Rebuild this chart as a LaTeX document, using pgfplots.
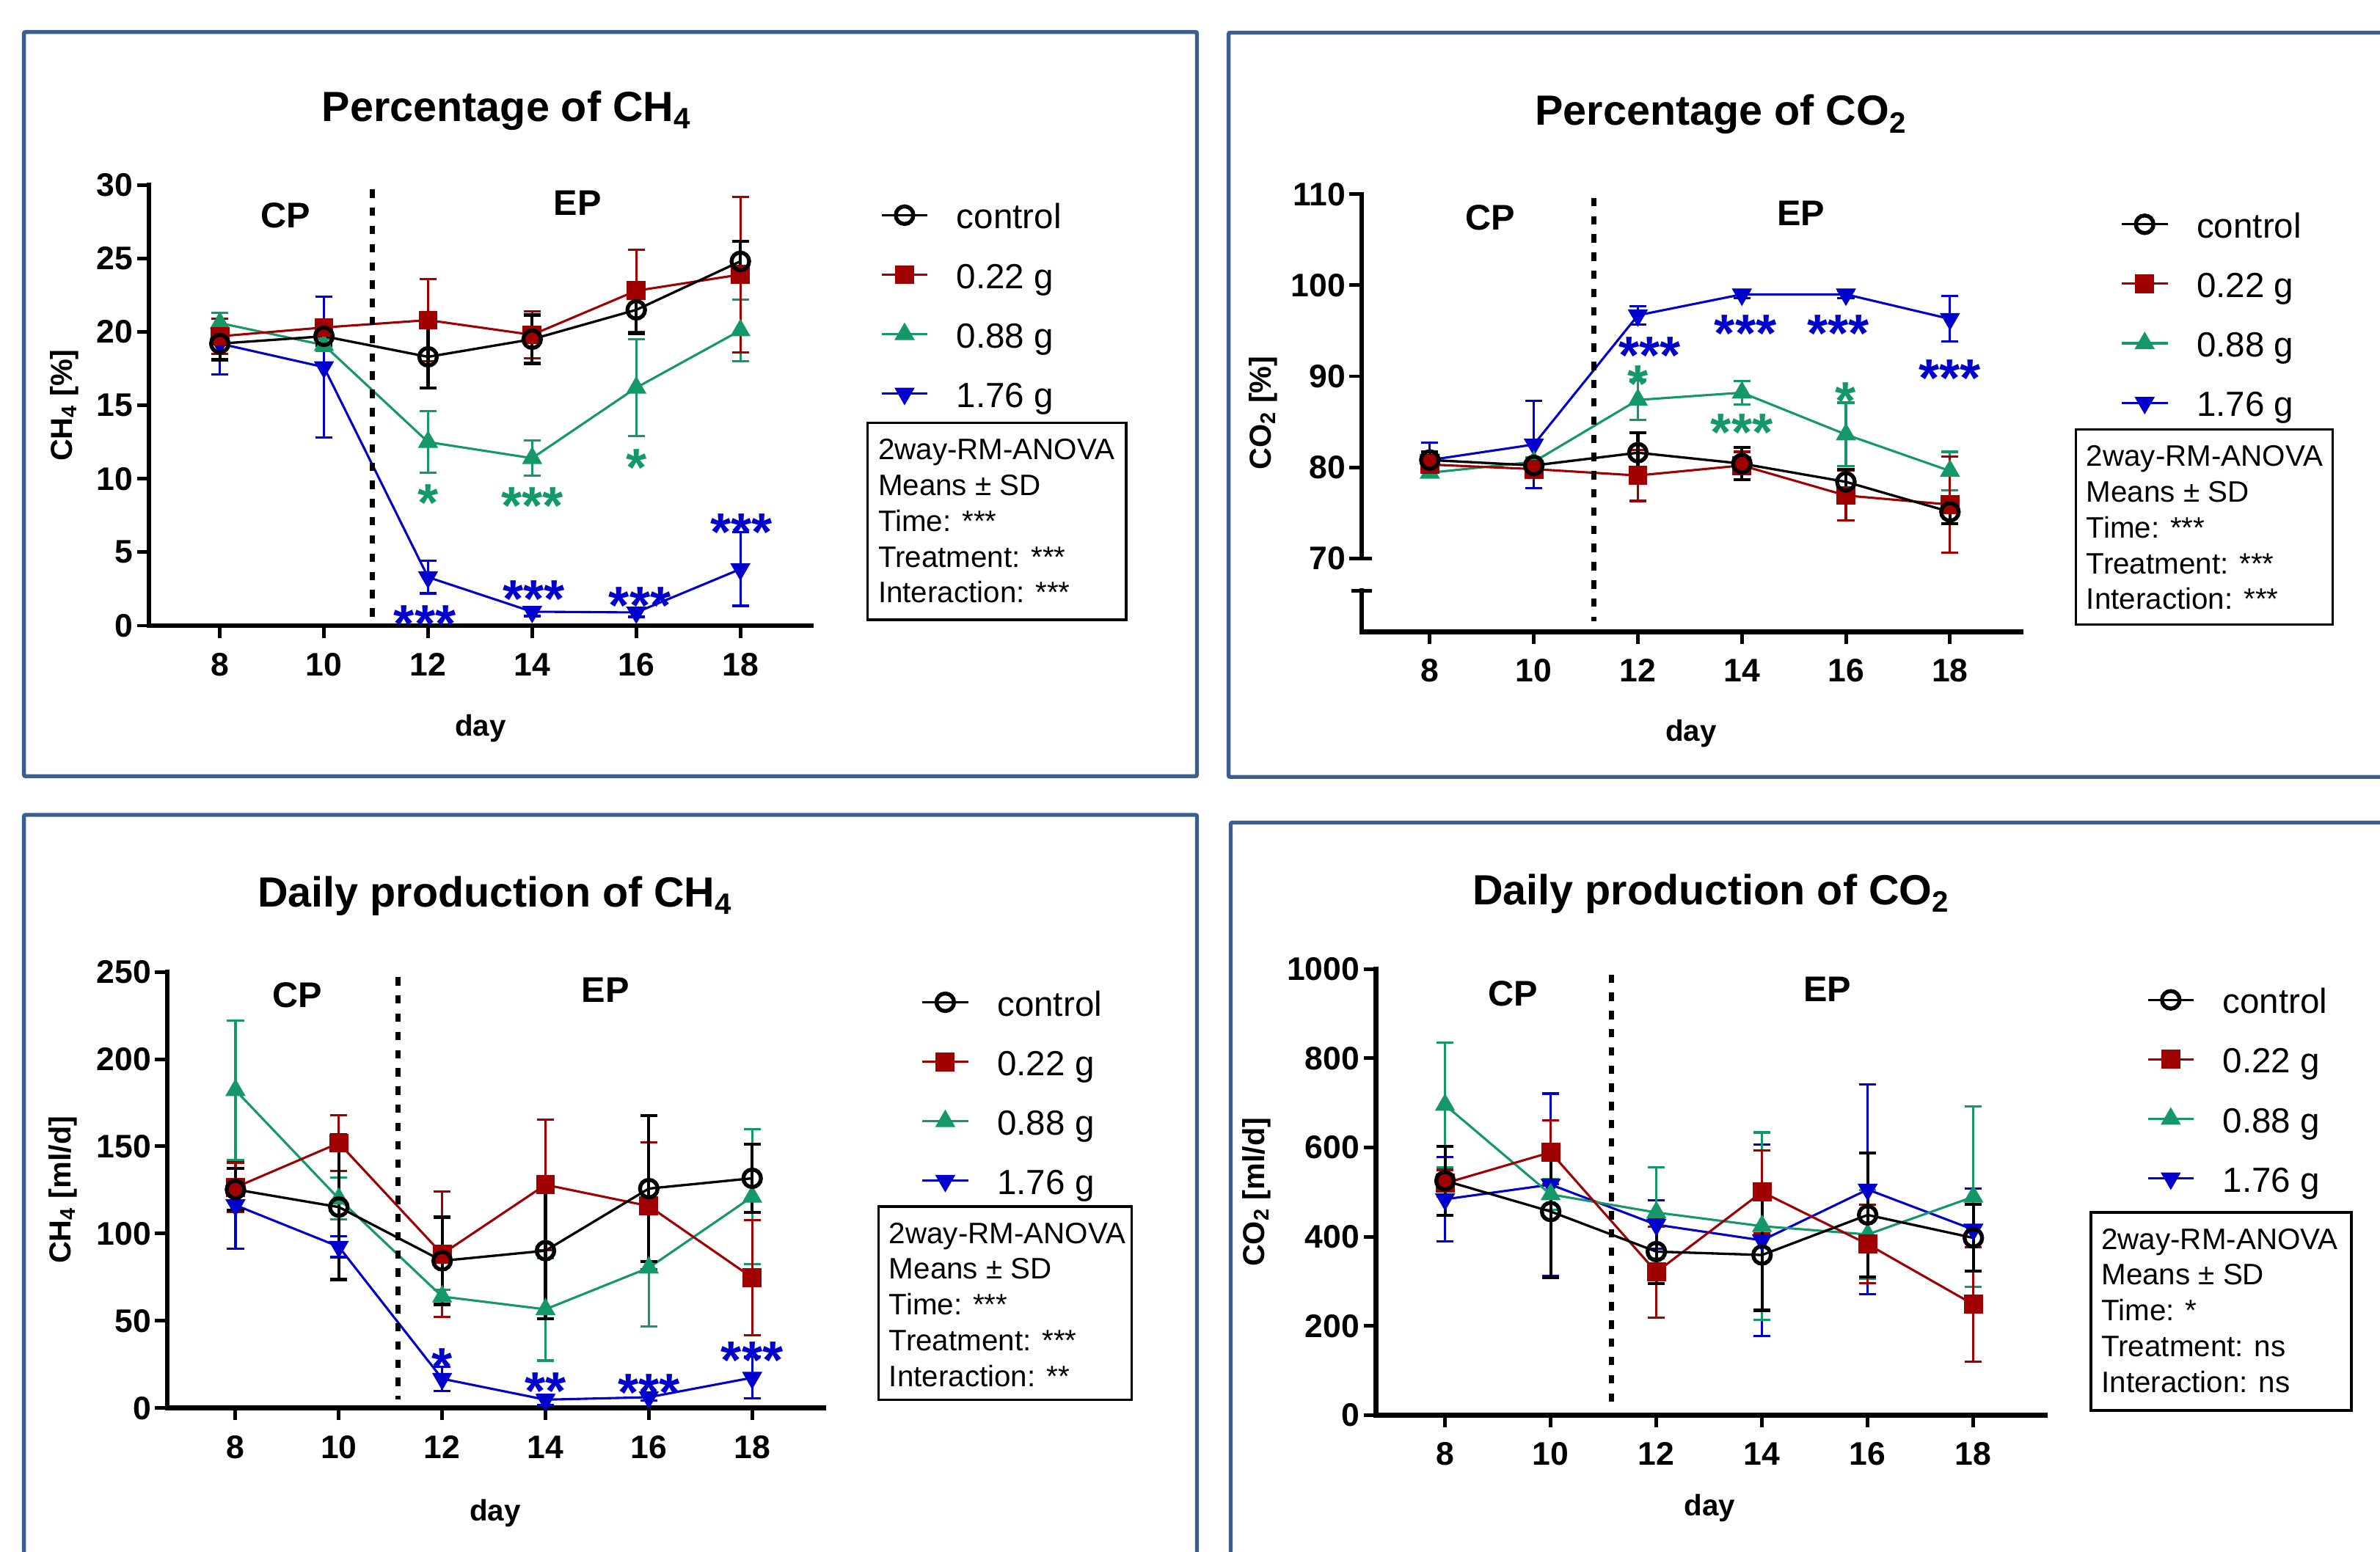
\documentclass[border=0pt]{standalone}
\usepackage{fontspec}
\setmainfont{Liberation Sans}
\usepackage{pgfplots}
\pgfplotsset{compat=1.18}
\usepackage{pgfplotstable}

\definecolor{cred}{RGB}{160,0,0}
\definecolor{cgreen}{RGB}{20,152,104}
\definecolor{cblue}{RGB}{0,0,204}
\definecolor{cborder}{RGB}{58,95,142}

\newcommand{\fsz}[1]{\fontsize{#1pt}{#1pt}\selectfont}
\newcommand{\st}[1]{\raisebox{-0.43em}[0.3em][0pt]{#1}}

% x  control  sd  0.22g  sd  0.88g  sd  1.76g  sd
\pgfplotstableread{
x  c     ce    r     re   g     ge   b     be
8  19.2  1.1   19.7  1.2  20.6  0.7  19.2  2.1
10 19.7  0.6   20.3  0.4  19.1  0.4  17.6  4.8
12 18.3  2.1   20.8  2.8  12.5  2.1  3.3   1.1
14 19.5  1.65  19.8  1.6  11.4  1.2  0.95  0.3
16 21.5  1.6   22.8  2.8  16.2  3.3  0.9   0.3
18 24.8  1.35  23.9  5.3  20.1  2.1  3.85  2.5
}\tTL

\pgfplotstableread{
x  c     ce    r     re    g     ge   b     be
8  80.8  0.9   80.3  0.7   79.4  0.5  80.8  1.9
10 80.2  0.5   79.8  0.5   80.6  0.5  82.5  4.8
12 81.6  2.2   79.1  2.8   87.4  2.2  96.7  1.0
14 80.4  1.75  80.2  1.5   88.2  1.3  99.0  0.4
16 78.4  1.4   76.9  2.75  83.6  3.5  99.0  0.4
18 75.1  1.3   75.9  5.25  79.6  2.1  96.3  2.5
}\tTR

\pgfplotstableread{
x  c      ce    r      re    g      ge    b     be
8  125.3  12    126.5  14    182.2  40    116.3 25
10 115.2  41.5  151.9  16    120.0  12    92.5  6
12 84.4   25    88.3   36    63.9   4     16.8  7
14 90.2   39    128.0  37.4  56.6   29.4  4.8   3
16 125.8  42    115.8  36.4  80.4   33.6  6.2   2
18 131.7  19.5  74.8   33    121.1  38.7  17.4  12
}\tBL

\pgfplotstableread{
x  c      ce    r      re    g      ge    b      be
8  525.7  77    520.0  30    695.5  139   484.1  94
10 456.7  148   589.3  72    495.0  35    517.0  204
12 366.9  71    321.0  102   454.5  102   427.2  54
14 359.3  124   500.5  93    423.9  210   392.1  215
16 449.0  139   383.4  88    405.3  99    506.0  235
18 397.6  75    248.6  128   489.6  202   416.2  92
}\tBR

\pgfplotsset{
  panel/.style={
    scale only axis, clip=false, anchor=south west,
    axis x line*=bottom, axis y line*=left,
    axis line style={-, line width=3.2pt, line cap=rect},
    tick style={line width=2.4pt, black},
    major tick length=8pt, tick align=outside,
    xtick={8,10,12,14,16,18},
    minor tick num=0,
    ticklabel style={font=\fsz{21.5}\bfseries},
    /pgf/number format/assume math mode=true,
    /pgf/number format/1000 sep={},
    xticklabel style={anchor=base, yshift=-25pt},
    yticklabel style={anchor=east, inner sep=0pt, xshift=-2.5pt},
    reverse legend, legend cell align=left,
    legend style={draw=none, fill=none, inner sep=0pt, outer sep=0pt,
      anchor=north west, font=\fsz{23}, row sep=13.2pt, column sep=18.3pt,
      nodes={inner sep=0pt, text height=22pt, text depth=4pt}},
    legend image code/.code={\draw[mark repeat=2,mark phase=2,##1] plot coordinates {(0pt,0pt) (15.15pt,0pt) (30.3pt,0pt)};},
  },
  sctrl/.style={black, line width=1.6pt, mark=o, mark size=5.8pt,
    mark options={line width=2.6pt, solid},
    error bars/y dir=both, error bars/y explicit,
    error bars/error bar style={line width=2pt, black, solid},
    error bars/error mark options={line width=2pt, mark size=5.6pt, black, rotate=90}},
  sred/.style={cred, line width=1.5pt, mark=square*, mark size=6pt,
    mark options={line width=0.5pt, fill=cred, solid},
    error bars/y dir=both, error bars/y explicit,
    error bars/error bar style={line width=1.5pt, cred, solid},
    error bars/error mark options={line width=1.5pt, mark size=5.6pt, cred, rotate=90}},
  sgreen/.style={cgreen, line width=1.5pt, mark=triangle*, mark size=7.2pt,
    mark options={line width=0.5pt, fill=cgreen, solid},
    error bars/y dir=both, error bars/y explicit,
    error bars/error bar style={line width=1.5pt, cgreen, solid},
    error bars/error mark options={line width=1.5pt, mark size=5.6pt, cgreen, rotate=90}},
  sblue/.style={cblue, line width=1.5pt, mark=triangle*, mark size=7.2pt,
    mark options={line width=0.5pt, fill=cblue, solid, rotate=180},
    error bars/y dir=both, error bars/y explicit,
    error bars/error bar style={line width=1.5pt, cblue, solid},
    error bars/error mark options={line width=1.5pt, mark size=5.6pt, cblue, rotate=90}},
}

\tikzset{
  stars/.style={font=\fsz{35}\bfseries, anchor=center, inner sep=0pt},
  dashl/.style={line width=3.2pt, dash pattern=on 5.5pt off 6.5pt, black},
}

\newcommand{\statbox}[7]{%
  \draw[line width=1.6pt] (#1pt,-#2pt) rectangle (#3pt,-#4pt);
  \begin{scope}[shift={(#1pt,-#2pt)}]
    \node[anchor=base west, inner sep=0pt, font=\fsz{19.5}] at (6.7pt,-24.2pt) {2way-RM-ANOVA};
    \node[anchor=base west, inner sep=0pt, font=\fsz{19.5}] at (6.7pt,-47.8pt) {Means ± SD};
    \node[anchor=base west, inner sep=0pt, font=\fsz{19.5}] at (6.7pt,-71.4pt) {Time: #5};
    \node[anchor=base west, inner sep=0pt, font=\fsz{19.5}] at (6.7pt,-95.0pt) {Treatment: #6};
    \node[anchor=base west, inner sep=0pt, font=\fsz{19.5}] at (6.7pt,-118.6pt) {Interaction: #7};
  \end{scope}
}

\begin{document}
\begin{tikzpicture}
\useasboundingbox (0pt,0pt) rectangle (1568pt,-1022.3pt);
\fill[white] (0pt,0pt) rectangle (1568pt,-1022.3pt);

% panel frames
\draw[cborder, line width=2.6pt, rounded corners=1pt] (15.8pt,-21.1pt) rectangle (788.6pt,-511.5pt);
\draw[cborder, line width=2.6pt, rounded corners=1pt] (809.4pt,-21.5pt) rectangle (1590pt,-512pt);
\draw[cborder, line width=2.6pt, rounded corners=1pt] (15.8pt,-537pt) rectangle (788.6pt,-1040pt);
\draw[cborder, line width=2.6pt, rounded corners=1pt] (810.8pt,-542.1pt) rectangle (1590pt,-1040pt);

% ---------------- Top left: Percentage of CH4
\begin{axis}[panel, at={(98.2pt,-412.3pt)}, width=436.2pt, height=290.4pt,
  xmin=6.64, xmax=19.36, ymin=0, ymax=30, ytick={0,5,...,30},
  legend style={at={(axis description cs:1.10454,0.97624)}}]
\addplot[sblue] table[x=x,y=b,y error=be]{\tTL}; \addlegendentry{1.76 g}
\addplot[sgreen] table[x=x,y=g,y error=ge]{\tTL}; \addlegendentry{0.88 g}
\addplot[sred] table[x=x,y=r,y error=re]{\tTL}; \addlegendentry{0.22 g}
\addplot[sctrl] table[x=x,y=c,y error=ce]{\tTL}; \addlegendentry{control}
\draw[dashl] (axis cs:10.93,29.7) -- (axis cs:10.93,0);
\node[stars, text=cgreen] at (axis cs:12,9.2) {\st{*}};
\node[stars, text=cgreen] at (axis cs:14,9.0) {\st{***}};
\node[stars, text=cgreen] at (axis cs:16,11.6) {\st{*}};
\node[stars, text=cblue] at (axis cs:11.94,0.95) {\st{***}};
\node[stars, text=cblue] at (axis cs:14.03,2.66) {\st{***}};
\node[stars, text=cblue] at (axis cs:16.07,2.2) {\st{***}};
\node[stars, text=cblue] at (axis cs:18.02,7.2) {\st{***}};
\end{axis}

% ---------------- Top right: Percentage of CO2
\begin{axis}[panel, at={(897.1pt,-416.5pt)}, width=434.5pt, height=288.5pt,
  xmin=6.69, xmax=19.37, ymin=61.9, ymax=110, ytick={70,80,...,110},
  y axis line style={draw=none},
  legend style={at={(axis description cs:1.15051,0.97643)}}]
\addplot[sblue] table[x=x,y=b,y error=be]{\tTR}; \addlegendentry{1.76 g}
\addplot[sgreen] table[x=x,y=g,y error=ge]{\tTR}; \addlegendentry{0.88 g}
\addplot[sred] table[x=x,y=r,y error=re]{\tTR}; \addlegendentry{0.22 g}
\addplot[sctrl] table[x=x,y=c,y error=ce]{\tTR}; \addlegendentry{control}
\draw[line width=3.2pt, line cap=rect] (axis cs:6.69,110) -- (axis cs:6.69,70);
\draw[line width=3.2pt, line cap=rect] (axis cs:6.69,66.43) -- (axis cs:6.69,61.9);
\draw[line width=2.4pt] ([xshift=-7pt]axis cs:6.69,70) -- ([xshift=7pt]axis cs:6.69,70);
\draw[line width=2.4pt] ([xshift=-7pt]axis cs:6.69,66.43) -- ([xshift=7pt]axis cs:6.69,66.43);
\draw[dashl] (axis cs:11.15,109.6) -- (axis cs:11.15,63.1);
\node[stars, text=cblue] at (axis cs:12.23,93.7) {\st{***}};
\node[stars, text=cblue] at (axis cs:14.07,96.1) {\st{***}};
\node[stars, text=cblue] at (axis cs:15.85,96.1) {\st{***}};
\node[stars, text=cblue] at (axis cs:18,91.2) {\st{***}};
\node[stars, text=cgreen] at (axis cs:12,90.5) {\st{*}};
\node[stars, text=cgreen] at (axis cs:14,85.2) {\st{***}};
\node[stars, text=cgreen] at (axis cs:16,88.7) {\st{*}};
\end{axis}

% ---------------- Bottom left: Daily production of CH4
\begin{axis}[panel, at={(110.2pt,-927.9pt)}, width=432.3pt, height=287.4pt,
  xmin=6.68, xmax=19.38, ymin=0, ymax=250, ytick={0,50,...,250},
  legend style={at={(axis description cs:1.14874,0.97564)}}]
\addplot[sblue] table[x=x,y=b,y error=be]{\tBL}; \addlegendentry{1.76 g}
\addplot[sgreen] table[x=x,y=g,y error=ge]{\tBL}; \addlegendentry{0.88 g}
\addplot[sred] table[x=x,y=r,y error=re]{\tBL}; \addlegendentry{0.22 g}
\addplot[sctrl] table[x=x,y=c,y error=ce]{\tBL}; \addlegendentry{control}
\draw[dashl] (axis cs:11.15,247) -- (axis cs:11.15,5);
\node[stars, text=cblue] at (axis cs:12,30.8) {\st{*}};
\node[stars, text=cblue] at (axis cs:14,16.8) {\st{**}};
\node[stars, text=cblue] at (axis cs:16,16) {\st{***}};
\node[stars, text=cblue] at (axis cs:18,34.5) {\st{***}};
\end{axis}

% ---------------- Bottom right: Daily production of CO2
\begin{axis}[panel, at={(906.4pt,-932.7pt)}, width=441pt, height=294.1pt,
  xmin=6.69, xmax=19.36, ymin=0, ymax=1000, ytick={0,200,...,1000},
  legend style={at={(axis description cs:1.15147,0.97518)}}]
\addplot[sblue] table[x=x,y=b,y error=be]{\tBR}; \addlegendentry{1.76 g}
\addplot[sgreen] table[x=x,y=g,y error=ge]{\tBR}; \addlegendentry{0.88 g}
\addplot[sred] table[x=x,y=r,y error=re]{\tBR}; \addlegendentry{0.22 g}
\addplot[sctrl] table[x=x,y=c,y error=ce]{\tBR}; \addlegendentry{control}
\draw[dashl] (axis cs:11.15,988) -- (axis cs:11.15,22);
\end{axis}

% titles
\node[anchor=base, font=\fsz{27.8}\bfseries] at (333.7pt,-79.8pt) {Percentage of CH\textsubscript{4}};
\node[anchor=base, font=\fsz{27.8}\bfseries] at (1133.7pt,-82.5pt) {Percentage of CO\textsubscript{2}};
\node[anchor=base, font=\fsz{27.8}\bfseries] at (326.1pt,-597.7pt) {Daily production of CH\textsubscript{4}};
\node[anchor=base, font=\fsz{27.8}\bfseries] at (1127.2pt,-596.1pt) {Daily production of CO\textsubscript{2}};

% CP / EP
\node[anchor=base, font=\fsz{23.5}\bfseries] at (188.3pt,-150pt) {CP};
\node[anchor=base, font=\fsz{23.5}\bfseries] at (380.6pt,-141.8pt) {EP};
\node[anchor=base, font=\fsz{23.5}\bfseries] at (981.8pt,-151.7pt) {CP};
\node[anchor=base, font=\fsz{23.5}\bfseries] at (1186.5pt,-148.4pt) {EP};
\node[anchor=base, font=\fsz{23.5}\bfseries] at (195.9pt,-663.7pt) {CP};
\node[anchor=base, font=\fsz{23.5}\bfseries] at (398.9pt,-660.5pt) {EP};
\node[anchor=base, font=\fsz{23.5}\bfseries] at (996.6pt,-662.8pt) {CP};
\node[anchor=base, font=\fsz{23.5}\bfseries] at (1203.8pt,-659.9pt) {EP};

% axis labels
\node[anchor=base, font=\fsz{19.5}\bfseries] at (316.6pt,-485pt) {day};
\node[anchor=base, font=\fsz{19.5}\bfseries] at (1114pt,-488.2pt) {day};
\node[anchor=base, font=\fsz{19.5}\bfseries] at (326.2pt,-1002pt) {day};
\node[anchor=base, font=\fsz{19.5}\bfseries] at (1126.4pt,-998.7pt) {day};
\node[rotate=90, anchor=base, font=\fsz{20}\bfseries] at (47.4pt,-267.1pt) {CH\textsubscript{4} [\%]};
\node[rotate=90, anchor=base, font=\fsz{20}\bfseries] at (837.2pt,-272.2pt) {CO\textsubscript{2} [\%]};
\node[rotate=90, anchor=base, font=\fsz{20}\bfseries] at (46.5pt,-784.2pt) {CH\textsubscript{4} [ml/d]};
\node[rotate=90, anchor=base, font=\fsz{20}\bfseries] at (833pt,-785.6pt) {CO\textsubscript{2} [ml/d]};

% statistics boxes
\statbox{571.7}{278.7}{742}{408.4}{***}{***}{***}
\statbox{1367.7}{283}{1536.8}{411.6}{***}{***}{***}
\statbox{578.9}{795.1}{745.7}{922.4}{***}{***}{**}
\statbox{1377.6}{799}{1549.1}{929.5}{*}{ns}{ns}
\end{tikzpicture}
\end{document}
